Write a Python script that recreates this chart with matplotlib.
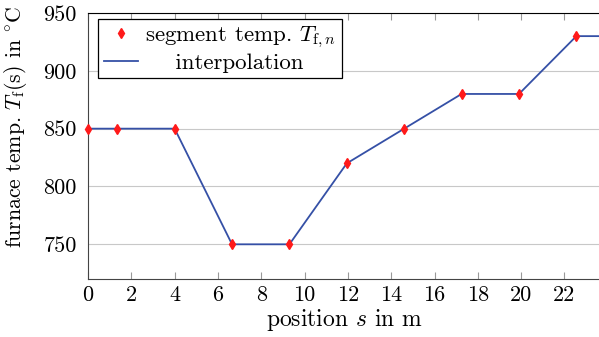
import matplotlib
matplotlib.use("Agg")
import matplotlib.pyplot as plt

# segment positions and temperatures
seg_pos = [0.0, 1.33, 4.0, 6.65, 9.3, 11.95, 14.6, 17.25, 19.9, 22.55]
seg_temp = [850, 850, 850, 750, 750, 820, 850, 880, 880, 930]

# interpolation continues past the last segment to the end of the furnace
interp_pos = seg_pos + [24.5]
interp_temp = seg_temp + [930]

xticks = list(range(0, 23, 2))
yticks = [750, 800, 850, 900, 950]

plt.rcParams['font.family'] = 'serif'
plt.rcParams['font.serif'] = ['cmr10', 'DejaVu Serif']
plt.rcParams['mathtext.fontset'] = 'cm'
plt.rcParams['axes.unicode_minus'] = False
plt.rcParams['font.size'] = 16

fig = plt.figure(figsize=(5.99, 3.37), dpi=100)
ax = fig.add_axes([88 / 599, 58 / 337, 1 - 88 / 599 + 0.002, 266 / 337])

ax.plot(interp_pos, interp_temp, color='#3550a6', lw=1.3, label='    interpolation', zorder=2)
ax.plot(seg_pos, seg_temp, 'd', color='#ff1a1a', ms=5, mec='#ff1a1a', lw=0,
        label=r'segment temp. $T_{\mathrm{f},n}$', zorder=3, clip_on=False)

ax.set_xlim(0, 23.65)
ax.set_ylim(720, 950)
ax.set_xticks(xticks)
ax.set_yticks(yticks)
ax.yaxis.grid(True, color='#c8c8c8', lw=0.8)
ax.set_axisbelow(True)

ax.tick_params(axis='x', direction='in', top=True, length=5, color='#999999', width=0.8, pad=5)
ax.tick_params(axis='y', direction='in', length=0, pad=8)
for s in ['left', 'bottom']:
    ax.spines[s].set_color('#444444')
ax.spines['top'].set_color('black')
ax.spines['right'].set_visible(False)

ax.set_xlabel(r'position $s$ in m', fontsize=17, labelpad=1)
ax.set_ylabel(r'furnace temp. $T_{\mathrm{f}}(\mathrm{s})$ in $^{\circ}$C', fontsize=15.7)
ax.yaxis.set_label_coords(-0.115, 0.57)

h, l = ax.get_legend_handles_labels()
leg = ax.legend(h[::-1], l[::-1], loc='upper left', bbox_to_anchor=(0.02, 0.977),
                borderaxespad=0, fancybox=False, framealpha=1, edgecolor='black',
                handlelength=1.5, handletextpad=0.3, borderpad=0.25, labelspacing=0.1,
                prop={'size': 16.5})
leg.get_frame().set_linewidth(0.9)

fig.savefig('out.png', dpi=100)
